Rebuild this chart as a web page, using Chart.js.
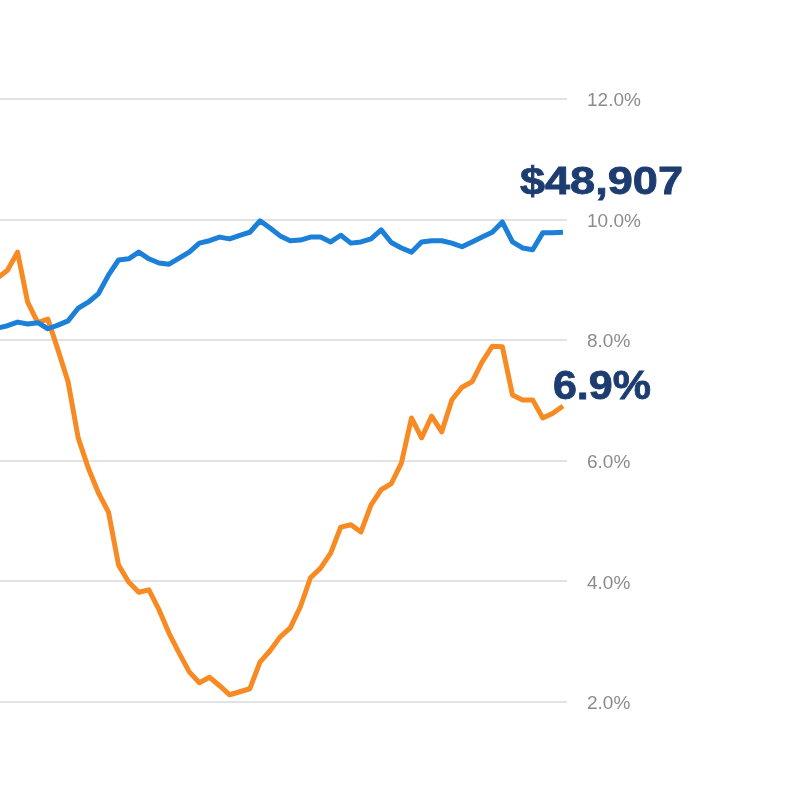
<!DOCTYPE html>
<html>
<head>
<meta charset="utf-8">
<script src="https://cdn.jsdelivr.net/npm/chart.js@4.4.1/dist/chart.umd.min.js"></script>
<style>
  html, body { margin: 0; padding: 0; background: #fff; }
  #wrap { width: 800px; height: 800px; }
</style>
</head>
<body>
<div id="wrap"><canvas id="chart" width="800" height="800"></canvas></div>
<script>
// one entry per period, the first one sits just off the left edge
const blueValues = [
  8.20, 8.24, 8.30, 8.27, 8.29, 8.19, 8.25, 8.32, 8.53, 8.63,
  8.77, 9.08, 9.33, 9.35, 9.46, 9.35, 9.28, 9.26, 9.36, 9.46,
  9.61, 9.65, 9.71, 9.68, 9.74, 9.79, 9.98, 9.86, 9.73, 9.65,
  9.66, 9.71, 9.71, 9.63, 9.74, 9.61, 9.63, 9.68, 9.83, 9.62,
  9.53, 9.46, 9.63, 9.65, 9.65, 9.61, 9.55, 9.63, 9.71, 9.79,
  9.96, 9.63, 9.53, 9.50, 9.78, 9.78, 9.79
];
const orangeValues = [
  9.03, 9.16, 9.46, 8.63, 8.29, 8.35, 7.84, 7.31, 6.38, 5.88,
  5.47, 5.15, 4.27, 3.99, 3.82, 3.86, 3.53, 3.14, 2.81, 2.50,
  2.32, 2.41, 2.27, 2.12, 2.17, 2.22, 2.66, 2.85, 3.08, 3.23,
  3.58, 4.06, 4.22, 4.47, 4.90, 4.94, 4.82, 5.27, 5.52, 5.62,
  5.96, 6.71, 6.38, 6.74, 6.48, 7.01, 7.22, 7.31, 7.64, 7.90,
  7.89, 7.09, 7.01, 7.01, 6.71, 6.79, 6.91
];
const endLabels = ['$48,907', '6.9%'];
const yTicks = [2, 4, 6, 8, 10, 12];

const toPoints = values => values.map((v, i) => ({ x: i, y: v }));

// big value labels next to the last point of each line
const endLabelPlugin = {
  id: 'endLabels',
  afterDatasetsDraw(chart) {
    const ctx = chart.ctx;
    const specs = [
      { ds: 0, dx: -43, dy: -38, size: 38, width: 163 },
      { ds: 1, dx: -10, dy: -7, size: 40, width: 98 }
    ];
    specs.forEach((s, i) => {
      const pts = chart.getDatasetMeta(s.ds).data;
      const last = pts[pts.length - 1];
      ctx.save();
      ctx.font = 'bold ' + s.size + 'px "Liberation Sans", Arial, sans-serif';
      ctx.fillStyle = '#1d3c70';
      ctx.strokeStyle = '#1d3c70';
      ctx.lineWidth = 0.8;
      ctx.textBaseline = 'alphabetic';
      const w = ctx.measureText(endLabels[i]).width;
      ctx.translate(last.x + s.dx, last.y + s.dy);
      ctx.scale(s.width / w, 1);
      ctx.fillText(endLabels[i], 0, 0);
      ctx.strokeText(endLabels[i], 0, 0);
      ctx.restore();
    });
  }
};

new Chart(document.getElementById('chart'), {
  type: 'line',
  data: {
    datasets: [
      {
        data: toPoints(blueValues),
        borderColor: '#1c80d8',
        borderWidth: 5,
        pointRadius: 0,
        tension: 0,
        borderJoinStyle: 'round'
      },
      {
        data: toPoints(orangeValues),
        borderColor: '#f78a22',
        borderWidth: 5,
        pointRadius: 0,
        tension: 0,
        borderJoinStyle: 'round'
      }
    ]
  },
  options: {
    responsive: false,
    animation: false,
    devicePixelRatio: 1,
    layout: { padding: { top: 99, bottom: 98, left: 0, right: 0 } },
    plugins: { legend: { display: false }, tooltip: { enabled: false } },
    scales: {
      x: {
        type: 'linear',
        min: 0.26,
        max: 56.4,
        display: false
      },
      y: {
        position: 'right',
        min: 2,
        max: 12,
        afterFit(scale) { scale.width = 233; },
        afterBuildTicks(scale) { scale.ticks = yTicks.map(v => ({ value: v })); },
        grid: { color: '#e2e2e2', lineWidth: 2, drawTicks: false },
        border: { display: false },
        ticks: {
          padding: 20,
          labelOffset: 2,
          color: '#8c8c8c',
          font: { family: '"Liberation Sans", Arial, sans-serif', size: 19 },
          callback: v => v.toFixed(1) + '%'
        }
      }
    }
  },
  plugins: [endLabelPlugin]
});
</script>
</body>
</html>
